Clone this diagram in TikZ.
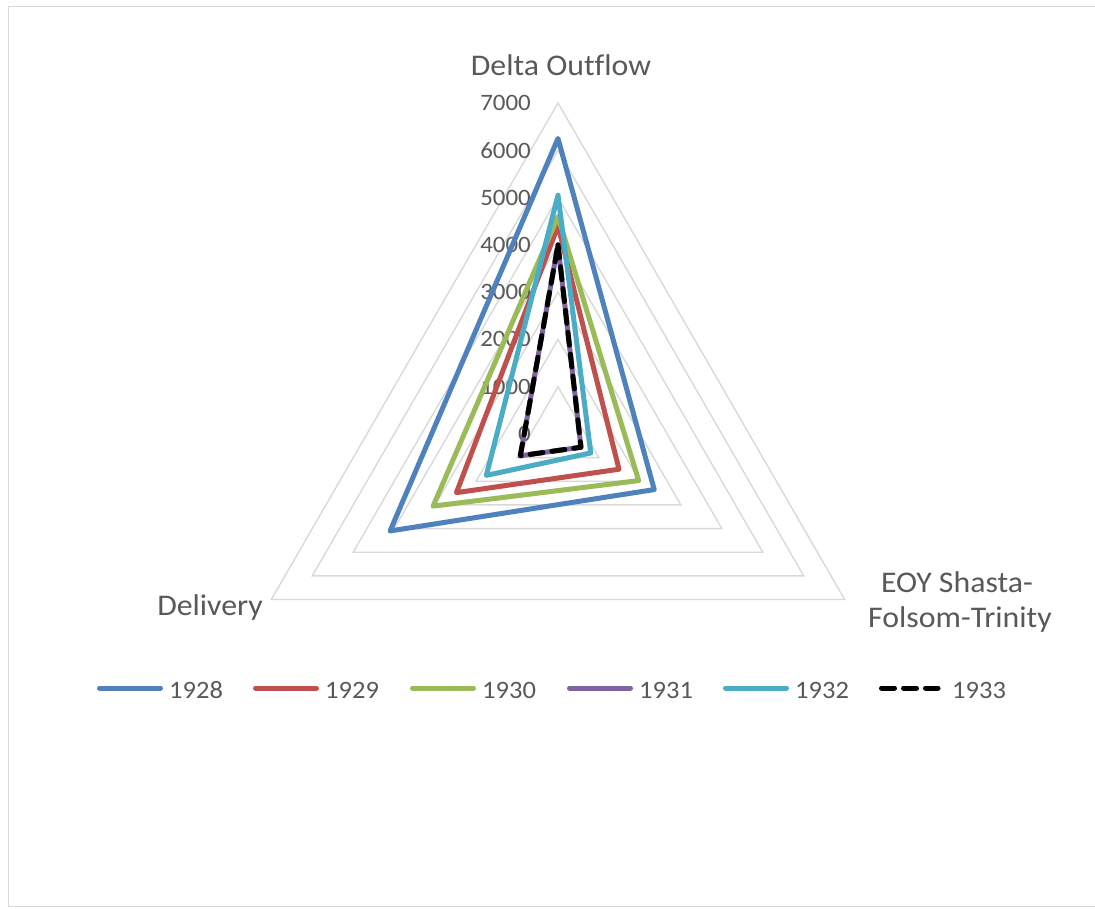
\documentclass[tikz,border=0pt]{standalone}
\usepackage{fontspec}
\setmainfont{Carlito}[FakeStretch=1.06,Ligatures=NoCommon]
\usetikzlibrary{calc}
\definecolor{c28}{HTML}{4F81BD}
\definecolor{c29}{HTML}{C0504D}
\definecolor{c30}{HTML}{9BBB59}
\definecolor{c31}{HTML}{8064A2}
\definecolor{c32}{HTML}{4BACC6}
\definecolor{c33}{HTML}{000000}
\definecolor{txt}{HTML}{595959}
\definecolor{gridc}{HTML}{D9D9D9}
\tikzset{
  gridline/.style={draw=gridc, line width=1.4pt},
  series/.style={line width=5pt, line join=round},
  dashser/.style={line width=5pt, line join=round, line cap=round, dash pattern=on 13pt off 9pt},
  ticklab/.style={text=txt, font=\fontsize{23.5}{26}\selectfont, inner sep=0pt, anchor=east},
  axlab/.style={text=txt, font=\fontsize{30}{35}\selectfont, inner sep=0pt, align=center},
  leglab/.style={text=txt, font=\fontsize{25}{28}\selectfont, inner sep=0pt, anchor=base west},
  legline/.style={line width=5pt, line cap=round},
}
\newcommand{\radarser}[5]{%
  \draw[#1, #2] ($(C)+(-90:#3*0.04729)$) -- ($(C)+(30:#4*0.04729)$) -- ($(C)+(150:#5*0.04729)$) -- cycle;}
\begin{document}
\begin{tikzpicture}[x=1pt,y=-1pt]
\useasboundingbox (0,0) rectangle (1095,908);
\fill[white] (0,0) rectangle (1095,908);
\draw[gridc, line width=1pt] (1095,6.5) -- (8.5,6.5) -- (8.5,906.5) -- (1095,906.5);
\coordinate (C) at (558,434);
% grid triangles
\foreach \k in {1,...,7}{
  \draw[gridline] ($(C)+(-90:\k*47.29)$) -- ($(C)+(30:\k*47.29)$) -- ($(C)+(150:\k*47.29)$) -- cycle;
}
% tick labels
\foreach \v/\k in {0/0,1000/1,2000/2,3000/3,4000/4,5000/5,6000/6,7000/7}{
  \node[ticklab] (tick\k) at (531,434-\k*47.29) {\v};
}
% data series
\radarser{series}{c28}{6250}{2350}{4100}
\radarser{series}{c29}{4400}{1490}{2480}
\radarser{series}{c30}{4600}{1970}{3050}
\radarser{series}{c31}{4000}{560}{920}
\radarser{series}{c32}{5050}{800}{1750}
\radarser{dashser}{c33}{4000}{560}{920}
% axis labels
\node[axlab, anchor=base] (delta) at (561,75) {Delta Outflow};
\node[axlab, anchor=base] (deliv) at (210,615) {Delivery};
\node[axlab, anchor=base] (eoy1) at (957,592) {EOY Shasta-};
\node[axlab, anchor=base] (eoy2) at (960,627) {Folsom-Trinity};
% legend
\foreach \x/\c/\yr in {97/c28/1928,253/c29/1929,410/c30/1930,567/c31/1931,723/c32/1932}{
  \coordinate (la\yr) at (\x+2.5,688);
  \coordinate (lb\yr) at (\x+63.5,688);
  \draw[legline, \c] (la\yr) -- (lb\yr);
  \node[leglab] (leg\yr) at (\x+72,698) {\yr};
}
\coordinate (la1933) at (881.5,688);
\coordinate (lb1933) at (938,688);
\draw[legline, c33, dash pattern=on 13pt off 9pt] (la1933) -- (lb1933);
\node[leglab] (leg1933) at (952,698) {1933};
\end{tikzpicture}
\end{document}
